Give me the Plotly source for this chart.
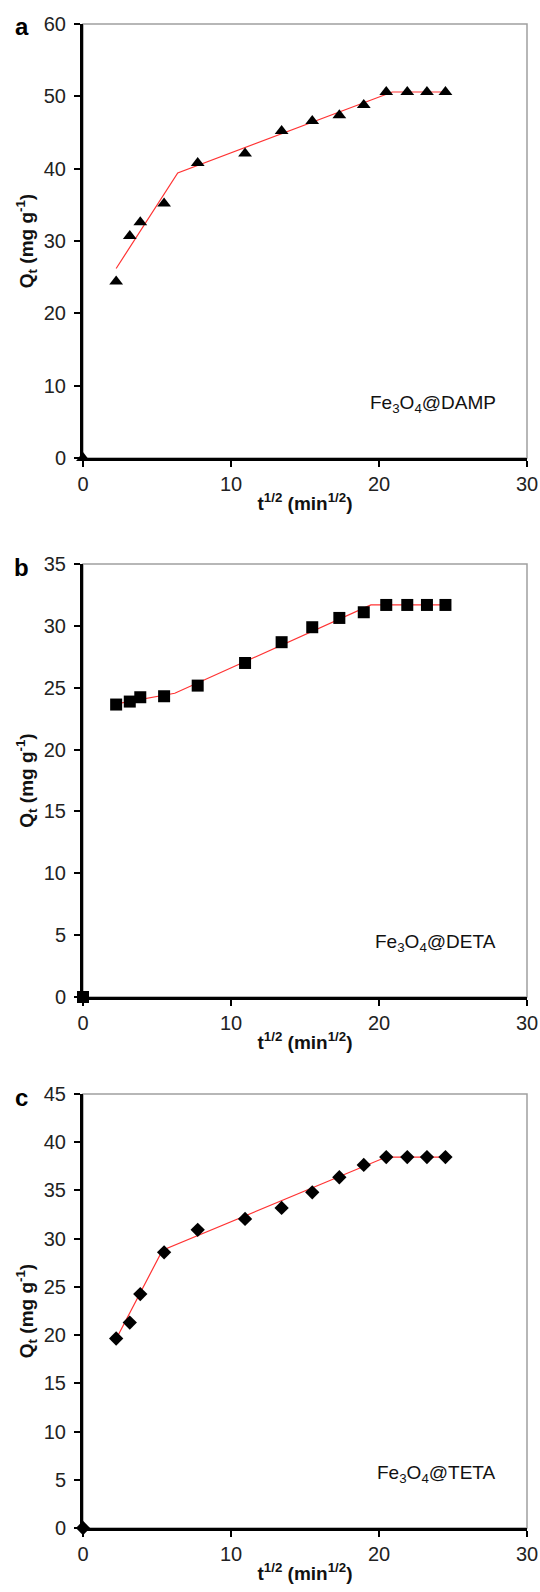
import plotly.graph_objects as go

# ---------------- data ----------------
t_half = [0, 2.24, 3.16, 3.87, 5.48, 7.75, 10.95, 13.42, 15.49, 17.32, 18.97, 20.49, 21.91, 23.24, 24.49]

q_damp = [0, 24.4, 30.7, 32.6, 35.2, 40.8, 42.1, 45.2, 46.6, 47.4, 48.8, 50.6, 50.6, 50.6, 50.6]
q_deta = [0, 23.64, 23.88, 24.23, 24.31, 25.17, 27.0, 28.68, 29.89, 30.64, 31.1, 31.69, 31.69, 31.69, 31.69]
q_teta = [0, 19.65, 21.3, 24.26, 28.58, 30.92, 32.05, 33.19, 34.8, 36.37, 37.65, 38.46, 38.46, 38.46, 38.46]

fit_x_damp = [2.24, 6.4, 20.9, 24.49]
fit_y_damp = [26.2, 39.4, 50.6, 50.6]
fit_x_deta = [2.24, 6.2, 19.45, 24.49]
fit_y_deta = [23.7, 24.55, 31.69, 31.69]
fit_x_teta = [2.24, 5.37, 20.49, 24.49]
fit_y_teta = [19.6, 28.8, 38.46, 38.46]

y_max = [60, 35, 45]
y_dtick = [10, 5, 5]
x_ticks = [0, 10, 20, 30]
panel_letters = ["a", "b", "c"]
sample_names = ["Fe<sub>3</sub>O<sub>4</sub>@DAMP",
                "Fe<sub>3</sub>O<sub>4</sub>@DETA",
                "Fe<sub>3</sub>O<sub>4</sub>@TETA"]
x_title = "t<sup>1/2</sup> (min<sup>1/2</sup>)"
y_title = "Q<sub>t</sub> (mg g<sup>-1</sup>)"

# ---------------- layout geometry (pixels) ----------------
W, H = 540, 1592
ML, MR, MT, MB = 83, 13, 24, 64
plot_h = H - MT - MB
panel_px = [(24, 458), (564, 997), (1094, 1528)]  # top, bottom pixel rows


def dom(top, bottom):
    return [(H - MB - bottom) / plot_h, (H - MB - top) / plot_h]


FONT = "Liberation Sans, Arial, sans-serif"
symbols = ["triangle-up", "square", "diamond"]
msizes = [12, 12, 11]

fig = go.Figure()
series = [(q_damp, fit_x_damp, fit_y_damp), (q_deta, fit_x_deta, fit_y_deta), (q_teta, fit_x_teta, fit_y_teta)]

for i, (qy, fx, fy) in enumerate(series):
    n = "" if i == 0 else str(i + 1)
    xa, ya = "x" + n, "y" + n
    fig.add_trace(go.Scatter(x=fx, y=fy, mode="lines", xaxis=xa, yaxis=ya,
                             line=dict(color="#ff3333", width=1.2), showlegend=False,
                             hoverinfo="skip"))
    fig.add_trace(go.Scatter(x=t_half, y=qy, mode="markers", xaxis=xa, yaxis=ya,
                             marker=dict(symbol=symbols[i], size=msizes[i], color="black"),
                             cliponaxis=False, showlegend=False))

    axis_common = dict(showgrid=False, zeroline=False, showline=True, linecolor="black",
                       linewidth=3, ticks="outside", tickcolor="black", tickwidth=2,
                       ticklen=6, automargin=False,
                       tickfont=dict(family=FONT, size=20, color="#222"))
    fig.layout["xaxis" + n] = go.layout.XAxis(
        domain=[0, 1], range=[0, 30], tickvals=x_ticks, anchor=ya,
        title=dict(text=x_title, font=dict(family=FONT, size=19, color="#111", weight="bold"),
                   standoff=3),
        **axis_common)
    top, bottom = panel_px[i]
    fig.layout["yaxis" + n] = go.layout.YAxis(
        domain=dom(top, bottom), range=[0, y_max[i]], dtick=y_dtick[i], anchor=xa,
        ticklabelstandoff=4,
        title=dict(text=y_title, font=dict(family=FONT, size=19, color="#111", weight="bold"),
                   standoff=6),
        **axis_common)

    # grey frame (top/right)
    fig.add_shape(type="rect", xref=xa + " domain", yref=ya + " domain",
                  x0=0, x1=1, y0=0, y1=1, line=dict(color="#a0a0a0", width=1.5), layer="below")
    # sample label
    fig.add_annotation(text=sample_names[i], xref=xa + " domain", yref=ya + " domain",
                       x=0.935, y=0.125, xanchor="right", yanchor="middle", showarrow=False,
                       font=dict(family=FONT, size=19, color="#111"))
    # panel letter
    fig.add_annotation(text="<b>%s</b>" % panel_letters[i], xref="paper", yref="paper",
                       x=-ML / (W - ML - MR) + 22 / (W - ML - MR),
                       y=(H - MB - (top + 3)) / plot_h, xanchor="center", yanchor="middle",
                       showarrow=False, font=dict(family=FONT, size=24, color="black"))

fig.update_layout(width=W, height=H, margin=dict(l=ML, r=MR, t=MT, b=MB),
                  paper_bgcolor="white", plot_bgcolor="white",
                  font=dict(family=FONT, color="#111"))

fig.write_html("out.html")
